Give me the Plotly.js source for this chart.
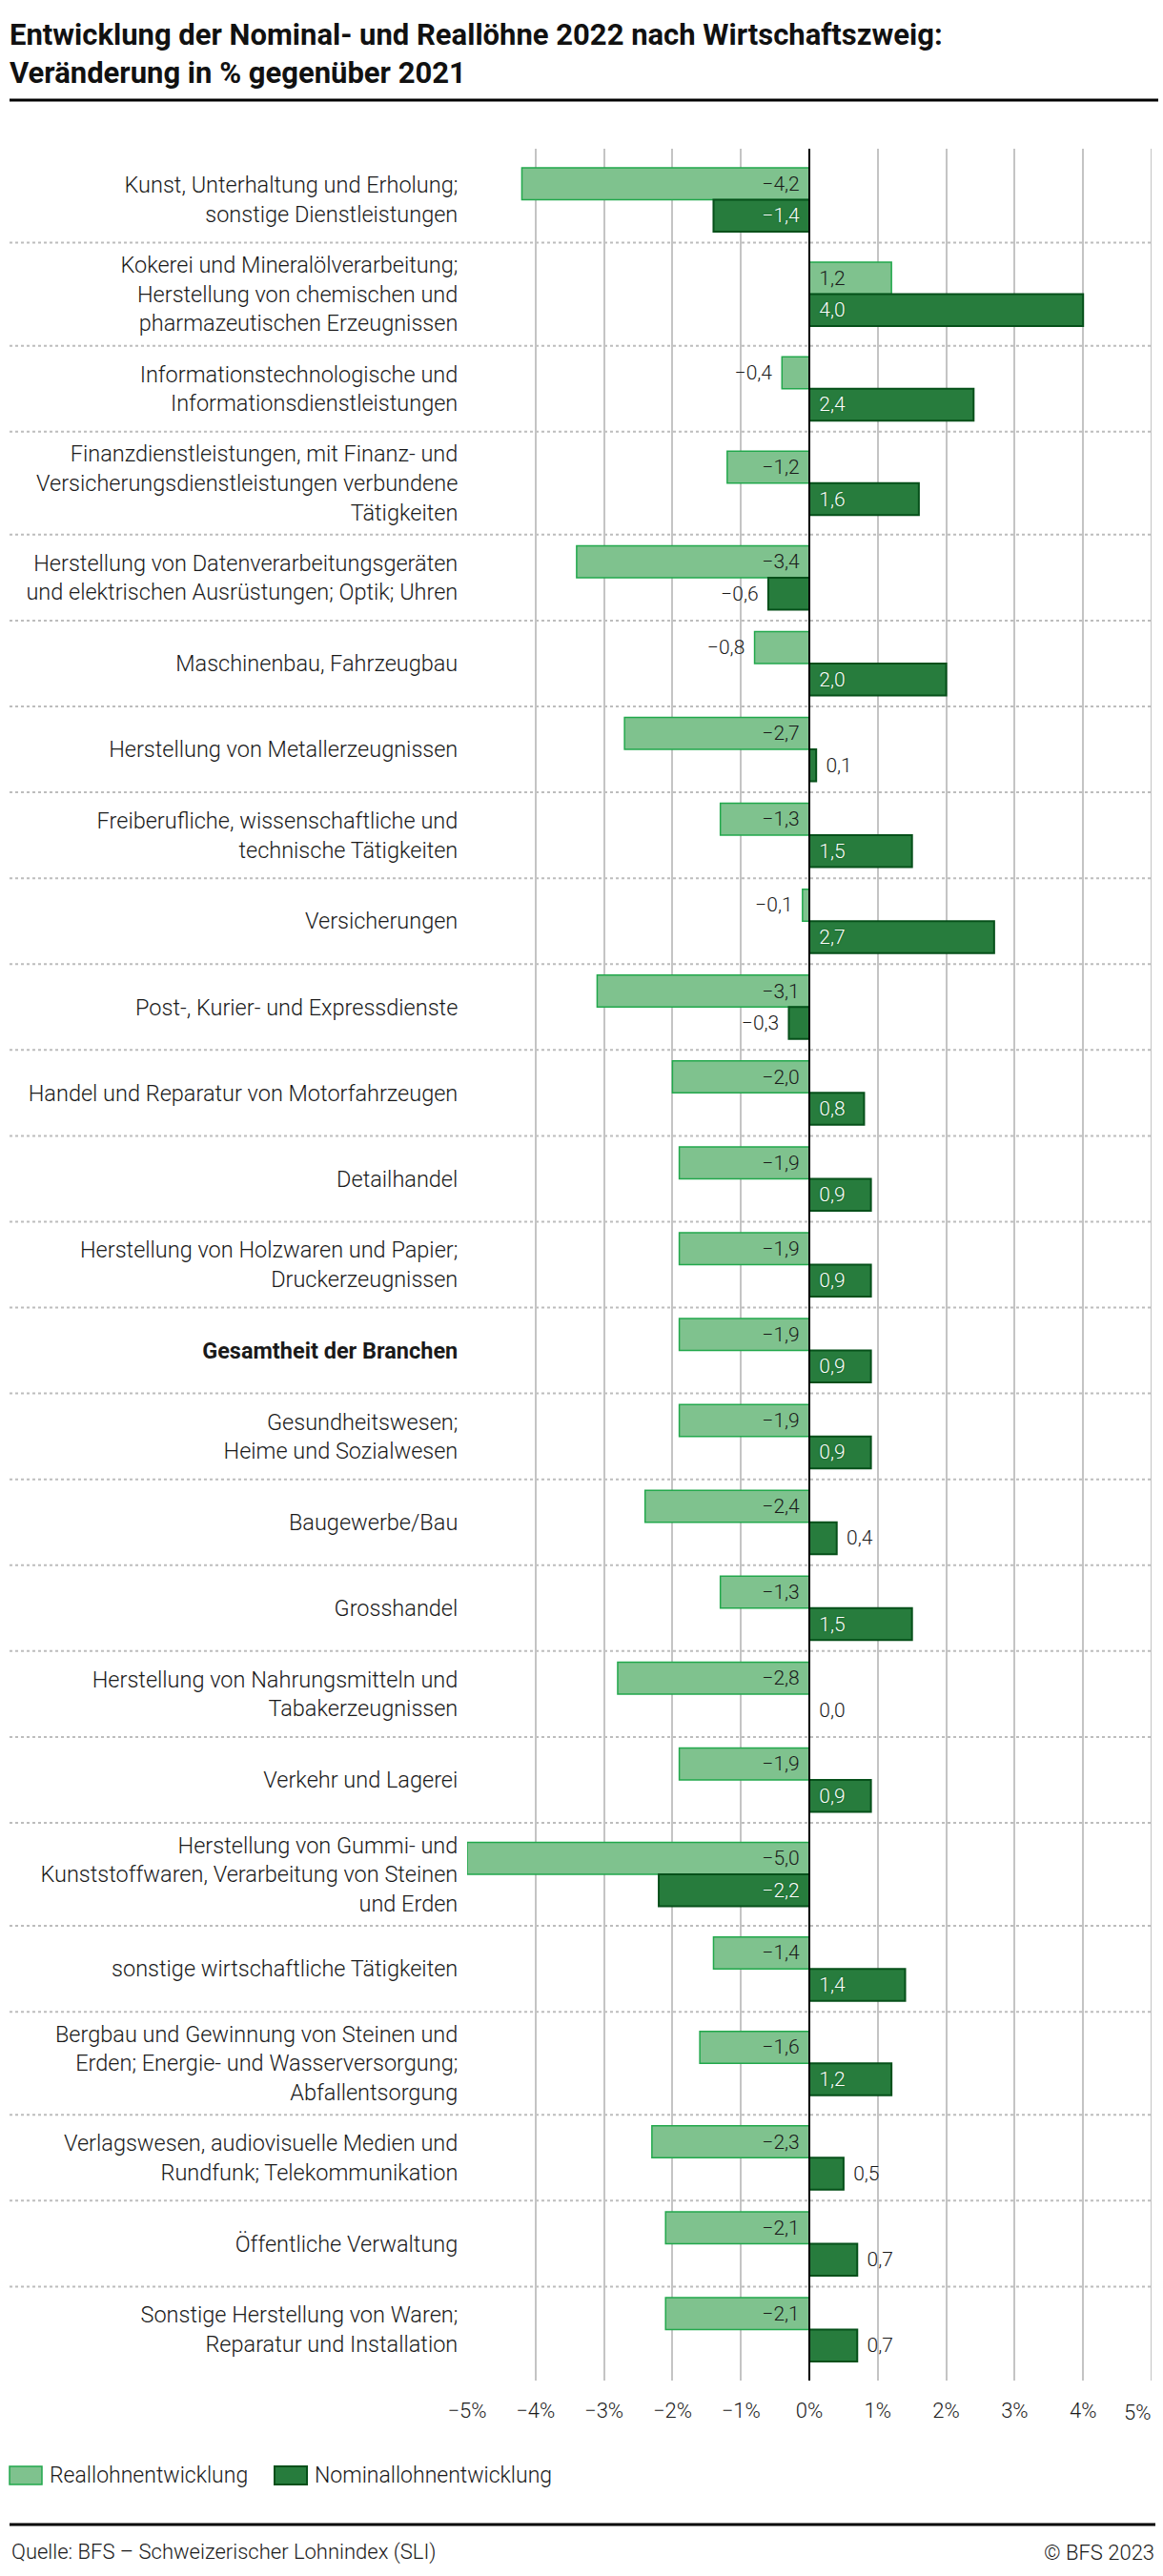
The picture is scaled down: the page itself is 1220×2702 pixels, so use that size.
<!DOCTYPE html>
<html>
<head>
<meta charset="utf-8">
<script src="https://cdn.plot.ly/plotly-3.0.1.min.js"></script>
<style>html,body{margin:0;padding:0;background:#fff;}</style>
</head>
<body>
<div id="chart" style="width:1220px;height:2702px;"></div>
<script>
// ---------- DATA ----------
const categories = [
  "Kunst, Unterhaltung und Erholung;<br>sonstige Dienstleistungen",
  "Kokerei und Mineralölverarbeitung;<br>Herstellung von chemischen und<br>pharmazeutischen Erzeugnissen",
  "Informationstechnologische und<br>Informationsdienstleistungen",
  "Finanzdienstleistungen, mit Finanz- und<br>Versicherungsdienstleistungen verbundene<br>Tätigkeiten",
  "Herstellung von Datenverarbeitungsgeräten<br>und elektrischen Ausrüstungen; Optik; Uhren",
  "Maschinenbau, Fahrzeugbau",
  "Herstellung von Metallerzeugnissen",
  "Freiberufliche, wissenschaftliche und<br>technische Tätigkeiten",
  "Versicherungen",
  "Post-, Kurier- und Expressdienste",
  "Handel und Reparatur von Motorfahrzeugen",
  "Detailhandel",
  "Herstellung von Holzwaren und Papier;<br>Druckerzeugnissen",
  "<b>Gesamtheit der Branchen</b>",
  "Gesundheitswesen;<br>Heime und Sozialwesen",
  "Baugewerbe/Bau",
  "Grosshandel",
  "Herstellung von Nahrungsmitteln und<br>Tabakerzeugnissen",
  "Verkehr und Lagerei",
  "Herstellung von Gummi- und<br>Kunststoffwaren, Verarbeitung von Steinen<br>und Erden",
  "sonstige wirtschaftliche Tätigkeiten",
  "Bergbau und Gewinnung von Steinen und<br>Erden; Energie- und Wasserversorgung;<br>Abfallentsorgung",
  "Verlagswesen, audiovisuelle Medien und<br>Rundfunk; Telekommunikation",
  "Öffentliche Verwaltung",
  "Sonstige Herstellung von Waren;<br>Reparatur und Installation"
];
const realWages = [-4.2, 1.2, -0.4, -1.2, -3.4, -0.8, -2.7, -1.3, -0.1, -3.1, -2.0, -1.9, -1.9, -1.9, -1.9, -2.4, -1.3, -2.8, -1.9, -5.0, -1.4, -1.6, -2.3, -2.1, -2.1];
const nominalWages = [-1.4, 4.0, 2.4, 1.6, -0.6, 2.0, 0.1, 1.5, 2.7, -0.3, 0.8, 0.9, 0.9, 0.9, 0.9, 0.4, 1.5, 0.0, 0.9, -2.2, 1.4, 1.2, 0.5, 0.7, 0.7];
const seriesNames = ["Reallohnentwicklung", "Nominallohnentwicklung"];
const xTickValues = [-5, -4, -3, -2, -1, 0, 1, 2, 3, 4, 5];
const xTickLabels = ["−5%", "−4%", "−3%", "−2%", "−1%", "0%", "1%", "2%", "3%", "4%", "5%"];
const titleText = "Entwicklung der Nominal- und Reallöhne 2022 nach Wirtschaftszweig:<br>Veränderung in % gegenüber 2021";
const sourceText = "Quelle: BFS – Schweizerischer Lohnindex (SLI)";
const copyrightText = "© BFS 2023";

// ---------- LAYOUT HELPERS ----------
const W = 1220, H = 2702, ML = 490, MR = 12, MT = 156, MB = 205;
const plotW = W - ML - MR, plotH = H - MT - MB;
const px2x = p => (p - ML) / plotW;
const py2y = p => (H - MB - p) / plotH;

const FONT = "Roboto, 'Noto Sans', sans-serif";
const TXT = "#1a1a1a";
const LIGHT_FILL = "#7fc28e", LIGHT_LINE = "#22a84c";
const DARK_FILL = "#277c3d", DARK_LINE = "#06501a";

// row heights: three-line labels get taller rows
const rowUnits = categories.map(c => c.split("<br>").length >= 3 ? 1.2 : 1);
const centers = [], bounds = [0];
let acc = 0;
rowUnits.forEach(u => { centers.push(acc + u / 2); acc += u; bounds.push(acc); });
const total = acc;
const padPx = 8.5;
const unitPx = (plotH - 2 * padPx) / total;
const padU = padPx / unitPx;
const barW = 33.5 / unitPx;

const fmt = v => (v < 0 ? "−" : "") + Math.abs(v).toFixed(1).replace(".", ",");
const GAP = "\u00a0\u200a";
const labelText = v => v < 0 ? fmt(v) + GAP : GAP + fmt(v);
const labelPos = v => ((v > 0 && v >= 0.8) || (v < 0 && v <= -1.0)) ? "inside" : "outside";

function barTrace(vals, name, fill, line, lw, inColor, offset, shadow) {
  return {
    type: "bar", orientation: "h", name: name,
    x: vals, y: centers,
    width: barW, offset: offset,
    marker: { color: fill, line: { color: line, width: lw } },
    text: vals.map(labelText),
    textposition: vals.map(labelPos),
    insidetextanchor: "start",
    constraintext: "none",
    cliponaxis: false,
    insidetextfont: { family: FONT, size: 21, color: inColor, weight: 300, shadow: shadow },
    outsidetextfont: { family: FONT, size: 21, color: TXT, weight: 300 },
    textangle: 0,
    hoverinfo: "x+name",
    showlegend: false
  };
}

const traces = [
  barTrace(realWages, seriesNames[0], LIGHT_FILL, LIGHT_LINE, 1.5, TXT, -barW, "none"),
  barTrace(nominalWages, seriesNames[1], DARK_FILL, DARK_LINE, 2, "#ffffff", 0, "0px 0px 2px #0a5a1e")
];

const shapes = [];
// title rule
shapes.push({ type: "line", xref: "paper", yref: "paper", x0: px2x(10), x1: px2x(1215), y0: py2y(105), y1: py2y(105), line: { color: "#000", width: 3 } });
// row separators (dotted)
bounds.slice(1, -1).forEach(b => {
  shapes.push({ type: "line", xref: "paper", yref: "y", x0: px2x(10), x1: px2x(1210), y0: b, y1: b, layer: "below", line: { color: "#bdbdbd", width: 2, dash: "dot" } });
});
// zero line
shapes.push({ type: "line", xref: "x", yref: "paper", x0: 0, x1: 0, y0: 0, y1: 1, layer: "above", line: { color: "#000", width: 2 } });
// legend swatches
shapes.push({ type: "rect", xref: "paper", yref: "paper", x0: px2x(10), x1: px2x(44), y0: py2y(2587), y1: py2y(2606), fillcolor: LIGHT_FILL, line: { color: LIGHT_LINE, width: 1.5 } });
shapes.push({ type: "rect", xref: "paper", yref: "paper", x0: px2x(288), x1: px2x(322), y0: py2y(2587), y1: py2y(2606), fillcolor: DARK_FILL, line: { color: DARK_LINE, width: 2 } });
// footer rule
shapes.push({ type: "line", xref: "paper", yref: "paper", x0: px2x(10), x1: px2x(1212), y0: py2y(2648), y1: py2y(2648), line: { color: "#000", width: 3 } });

const tickFont = { family: FONT, size: 22, color: TXT, weight: 300 };
const legFont = { family: FONT, size: 23, color: TXT, weight: 300 };
const footFont = { family: FONT, size: 22, color: TXT, weight: 300 };
const lastTick = xTickValues.length - 1;
const annotations = [
  // last x tick label, kept inside the page (right-aligned on its gridline)
  { text: xTickLabels[lastTick], xref: "x", yref: "paper", x: xTickValues[lastTick], y: py2y(2531), xanchor: "right", yanchor: "middle", showarrow: false, font: tickFont, borderpad: 0 },
  { text: seriesNames[0], xref: "paper", yref: "paper", x: px2x(50), y: py2y(2596), xanchor: "left", yanchor: "middle", showarrow: false, font: legFont },
  { text: seriesNames[1], xref: "paper", yref: "paper", x: px2x(328), y: py2y(2596), xanchor: "left", yanchor: "middle", showarrow: false, font: legFont },
  { text: sourceText, xref: "paper", yref: "paper", x: px2x(10), y: py2y(2677), xanchor: "left", yanchor: "middle", showarrow: false, font: footFont },
  { text: copyrightText, xref: "paper", yref: "paper", x: px2x(1213), y: py2y(2677), xanchor: "right", yanchor: "middle", showarrow: false, font: footFont }
];

const layout = {
  width: W, height: H,
  margin: { l: ML, r: MR, t: MT, b: MB, pad: 0 },
  paper_bgcolor: "#fff", plot_bgcolor: "#fff",
  font: { family: FONT, size: 22, color: TXT, weight: 300 },
  title: {
    text: titleText,
    xref: "container", yref: "container",
    x: 10 / W, xanchor: "left",
    y: 1 - 47 / H, yanchor: "top",
    pad: { t: 0, l: 0, r: 0, b: 0 },
    font: { family: FONT, size: 31, color: "#111", weight: 700 }
  },
  barmode: "overlay",
  showlegend: false,
  xaxis: {
    range: [-5, 5], fixedrange: true,
    tickvals: xTickValues.slice(0, lastTick), ticktext: xTickLabels.slice(0, lastTick),
    showgrid: true, gridcolor: "#c4c4c4", gridwidth: 2,
    zeroline: false, showline: false,
    ticks: "outside", ticklen: 12, tickcolor: "rgba(0,0,0,0)",
    tickfont: tickFont
  },
  yaxis: {
    range: [total + padU, -padU], fixedrange: true,
    tickvals: centers, ticktext: categories,
    showgrid: false, zeroline: false, showline: false,
    ticks: "outside", ticklen: 4, tickcolor: "rgba(0,0,0,0)",
    tickfont: { family: FONT, size: 23.5, color: TXT, weight: 300 }
  },
  shapes: shapes.concat([
    // gridline at the right end of the axis (its tick label is an annotation)
    { type: "line", xref: "x", yref: "paper", x0: xTickValues[lastTick], x1: xTickValues[lastTick], y0: 0, y1: 1, layer: "below", line: { color: "#c4c4c4", width: 2 } }
  ]),
  annotations: annotations
};

Plotly.newPlot("chart", traces, layout, { displayModeBar: false, staticPlot: true });
</script>
</body>
</html>
